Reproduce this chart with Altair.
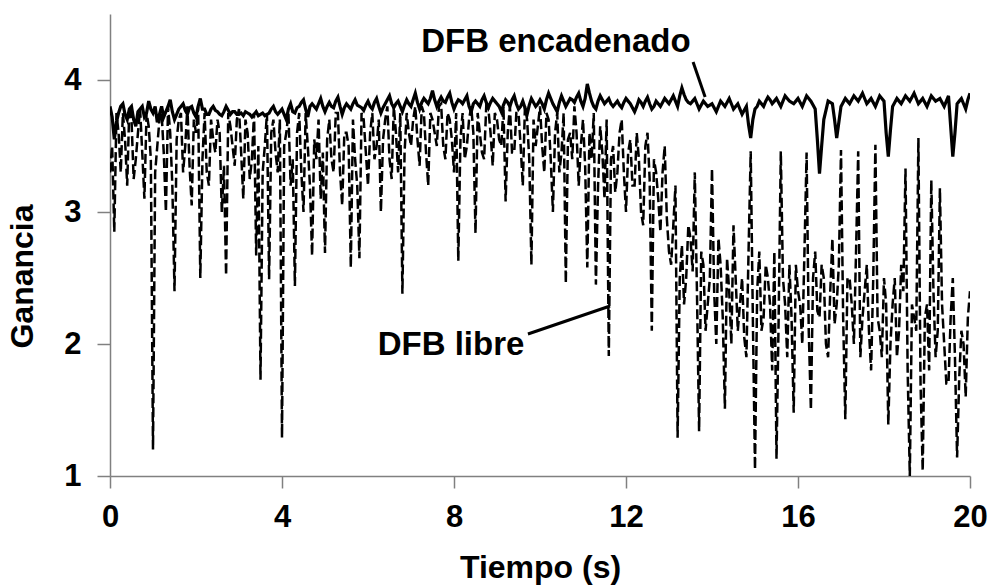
import altair as alt
import pandas as pd

# time axis (s): main samples every 0.1 s, plus the samples between them
tiempo = [round(i * 0.1, 1) for i in range(201)]
tiempo_mid = [round(0.05 + i * 0.1, 2) for i in range(200)]

# DFB libre (dashed)
libre = [
    3.3, 2.85, 3.6, 3.75, 3.2, 3.7, 3.4, 3.78, 3.1, 3.65,
    1.2, 3.5, 3.75, 3.0, 3.6, 2.4, 3.7, 3.3, 3.8, 3.05,
    3.6, 2.5, 3.75, 3.2, 3.55, 3.7, 3.0, 2.52, 3.65, 3.35,
    3.78, 3.1, 3.6, 3.4, 2.67, 1.73, 3.5, 2.49, 3.7, 3.3,
    1.29, 3.6, 3.2, 2.44, 3.75, 3.0, 3.5, 2.67, 3.4, 3.1,
    2.69, 3.7, 3.3, 3.75, 3.05, 3.6, 2.58, 3.4, 2.65, 3.7,
    3.2, 3.75, 3.5, 3.0, 3.7, 3.4, 3.8, 3.3, 2.38, 3.75,
    3.5, 3.8, 3.35, 3.75, 3.2, 3.7, 3.5, 3.82, 3.4, 3.7,
    3.3, 2.63, 3.75, 3.5, 3.8, 2.84, 3.6, 3.4, 3.78, 3.35,
    3.7, 3.5, 3.08, 3.8, 3.45, 3.75, 3.2, 3.7, 2.6, 3.5,
    3.8, 3.3, 3.7, 3.0, 3.75, 3.45, 2.46, 3.6, 3.8, 3.2,
    3.7, 2.58, 3.4, 2.45, 3.65, 3.1, 1.91, 3.5, 3.3, 3.7,
    3.0, 3.55, 3.2, 3.4, 2.9, 3.6, 2.1, 3.3, 2.85, 3.5,
    2.7, 2.9, 1.29, 2.75, 2.5, 2.8, 3.3, 1.34, 2.6, 2.3,
    3.33, 2.0, 2.6, 1.51, 2.4, 2.9, 2.1, 2.5, 1.9, 3.46,
    1.05, 2.7, 2.2, 2.5, 1.8, 1.13, 3.46, 2.3, 2.6, 1.48,
    2.4, 2.0, 3.45, 1.5, 2.7, 2.2, 2.5, 1.9, 2.8, 2.3,
    3.47, 1.43, 2.5, 2.0, 3.46, 2.2, 2.6, 1.8, 3.51, 2.1,
    2.5, 1.39, 2.3, 1.9, 2.6, 3.33, 1.0, 2.2, 3.56, 1.04,
    2.3, 3.24, 1.9, 3.18, 2.0, 1.7, 2.5, 1.14, 2.1, 1.6,
    2.4,
]
libre_mid = [
    3.5, 3.75, 3.3, 3.55, 3.8, 3.25, 3.6, 3.45, 3.75, 3.4,
    3.3, 3.7, 3.45, 3.8, 3.2, 3.55, 3.75, 3.5, 3.35, 3.7,
    3.8, 3.4, 3.3, 3.7, 3.45, 3.6, 3.35, 3.75, 3.5, 3.7,
    3.45, 3.7, 3.25, 3.75, 3.5, 3.3, 3.75, 3.6, 3.45, 3.7,
    3.5, 3.75, 3.4, 3.6, 3.3, 3.75, 3.2, 3.55, 3.7, 3.45,
    3.55, 3.4, 3.75, 3.3, 3.6, 3.5, 3.7, 3.2, 3.75, 3.45,
    3.6, 3.4, 3.7, 3.55, 3.8, 3.25, 3.6, 3.75, 3.45, 3.6,
    3.7, 3.55, 3.8, 3.45, 3.75, 3.6, 3.8, 3.5, 3.75, 3.55,
    3.75, 3.55, 3.4, 3.7, 3.6, 3.75, 3.45, 3.8, 3.6, 3.75,
    3.55, 3.8, 3.6, 3.45, 3.75, 3.5, 3.8, 3.4, 3.7, 3.65,
    3.5, 3.75, 3.4, 3.6, 3.3, 3.75, 3.55, 3.4, 3.6, 3.5,
    3.35, 3.6, 3.75, 3.2, 3.45, 3.7, 3.4, 3.15, 3.6, 3.3,
    3.45, 3.2, 3.6, 3.0, 3.5, 3.25, 3.4, 3.1, 3.3, 2.95,
    2.6, 3.2, 2.5, 2.3, 2.9, 2.55, 2.4, 2.7, 2.1, 2.5,
    2.4, 2.8, 2.2, 2.65, 2.0, 2.5, 2.3, 2.05, 2.7, 2.2,
    2.4, 2.1, 2.6, 2.3, 2.7, 2.2, 2.5, 1.9, 2.2, 2.6,
    2.3, 2.7, 2.1, 2.5, 2.25, 2.6, 2.0, 2.4, 2.15, 2.6,
    2.2, 2.5, 2.3, 2.7, 1.9, 2.4, 2.1, 2.5, 2.2, 1.9,
    2.3, 2.0, 2.5, 2.1, 2.4, 1.8, 2.3, 2.1, 1.7, 2.2,
    1.8, 2.4, 2.1, 2.3, 1.7, 2.2, 1.9, 1.75, 2.0, 2.2,
]

# DFB encadenado (solid)
encadenado = [
    3.8, 3.55, 3.75, 3.82, 3.7, 3.8, 3.65, 3.78, 3.72, 3.84,
    3.75, 3.68, 3.8, 3.76, 3.85, 3.7, 3.78, 3.82, 3.74, 3.8,
    3.72, 3.86, 3.78, 3.74, 3.8, 3.76, 3.73, 3.8, 3.74, 3.76,
    3.74, 3.73, 3.75, 3.72, 3.76, 3.74, 3.73, 3.75, 3.8, 3.74,
    3.78, 3.7, 3.82, 3.75, 3.8, 3.85, 3.72, 3.82, 3.78, 3.86,
    3.76, 3.83, 3.79, 3.87, 3.74, 3.82, 3.78, 3.85, 3.8, 3.77,
    3.84, 3.78, 3.86, 3.75, 3.82, 3.88, 3.79, 3.84, 3.76, 3.85,
    3.8, 3.9, 3.78, 3.86, 3.82, 3.92, 3.8, 3.87, 3.83, 3.9,
    3.78, 3.85, 3.82, 3.88, 3.76, 3.84, 3.8, 3.88, 3.79, 3.86,
    3.82, 3.76, 3.85, 3.8, 3.88, 3.78, 3.84, 3.74, 3.86, 3.8,
    3.85, 3.78, 3.9, 3.82, 3.76, 3.88, 3.8, 3.86, 3.83, 3.9,
    3.8, 3.97, 3.84, 3.78, 3.88, 3.82, 3.86, 3.8, 3.84, 3.79,
    3.86, 3.82, 3.76, 3.85, 3.8, 3.87, 3.78, 3.84, 3.8, 3.86,
    3.82, 3.88, 3.8, 3.94, 3.85, 3.82, 3.86, 3.78, 3.84, 3.8,
    3.82, 3.76, 3.84, 3.8, 3.86, 3.78, 3.82, 3.74, 3.8, 3.56,
    3.78, 3.84, 3.8, 3.87, 3.82, 3.86, 3.8, 3.88, 3.84, 3.82,
    3.86, 3.8, 3.88, 3.84, 3.78, 3.29, 3.7, 3.84, 3.82, 3.56,
    3.8, 3.86, 3.82, 3.88, 3.84, 3.9, 3.82, 3.86, 3.8, 3.88,
    3.84, 3.42, 3.8, 3.86, 3.82, 3.88, 3.84, 3.9, 3.82, 3.86,
    3.8, 3.88, 3.84, 3.86, 3.8, 3.88, 3.42, 3.82, 3.86, 3.78,
    3.9,
]
encadenado_mid = [
    3.72, 3.68, 3.8, 3.74, 3.78, 3.7, 3.76, 3.8, 3.75, 3.78,
    3.8, 3.74, 3.72, 3.8, 3.76, 3.74, 3.8, 3.77, 3.79, 3.75,
    3.8, 3.78, 3.74, 3.78, 3.77, 3.74, 3.76, 3.77, 3.76, 3.74,
    3.75, 3.76, 3.74, 3.74, 3.73, 3.75, 3.74, 3.78, 3.76, 3.76,
    3.74, 3.78, 3.76, 3.79, 3.83, 3.78, 3.8, 3.8, 3.82, 3.8,
    3.8, 3.8, 3.84, 3.8, 3.79, 3.8, 3.82, 3.81, 3.79, 3.81,
    3.8, 3.83, 3.8, 3.79, 3.85, 3.82, 3.82, 3.8, 3.81, 3.82,
    3.85, 3.83, 3.83, 3.84, 3.86, 3.85, 3.84, 3.84, 3.87, 3.83,
    3.82, 3.84, 3.85, 3.8, 3.82, 3.82, 3.85, 3.83, 3.83, 3.84,
    3.8, 3.81, 3.83, 3.85, 3.82, 3.8, 3.79, 3.81, 3.83, 3.82,
    3.82, 3.85, 3.86, 3.79, 3.83, 3.84, 3.83, 3.85, 3.87, 3.84,
    3.86, 3.9, 3.8, 3.84, 3.85, 3.84, 3.82, 3.82, 3.81, 3.83,
    3.84, 3.79, 3.8, 3.83, 3.84, 3.82, 3.8, 3.82, 3.83, 3.84,
    3.85, 3.84, 3.88, 3.89, 3.83, 3.84, 3.82, 3.81, 3.82, 3.81,
    3.79, 3.8, 3.82, 3.83, 3.82, 3.8, 3.78, 3.77, 3.66, 3.7,
    3.8, 3.82, 3.84, 3.85, 3.84, 3.83, 3.84, 3.86, 3.83, 3.84,
    3.83, 3.84, 3.86, 3.81, 3.55, 3.5, 3.77, 3.83, 3.7, 3.68,
    3.83, 3.84, 3.85, 3.86, 3.87, 3.86, 3.84, 3.83, 3.84, 3.86,
    3.6, 3.62, 3.83, 3.84, 3.85, 3.86, 3.87, 3.86, 3.84, 3.83,
    3.84, 3.86, 3.85, 3.83, 3.84, 3.65, 3.6, 3.84, 3.82, 3.85,
]

x_ticks = [0, 4, 8, 12, 16, 20]
y_ticks = [1, 2, 3, 4]

# annotations (data coordinates)
label_text = ["DFB encadenado", "DFB libre"]
label_t = [10.37, 7.93]
label_v = [4.21, 1.92]
arrow_t = [13.56, 9.72]
arrow_v = [4.136, 2.076]
arrow_t2 = [13.84, 11.63]
arrow_v2 = [3.871, 2.288]

df = pd.concat([
    pd.DataFrame({"t": tiempo, "libre": libre, "enc": encadenado}),
    pd.DataFrame({"t": tiempo_mid, "libre": libre_mid, "enc": encadenado_mid}),
]).sort_values("t").reset_index(drop=True)
lab = pd.DataFrame({"text": label_text, "t": label_t, "v": label_v})
arr = pd.DataFrame({"t": arrow_t, "v": arrow_v, "t2": arrow_t2, "v2": arrow_v2})

FONT = "Liberation Sans"

xscale = alt.Scale(domain=[0, 20], nice=False, zero=False)
yscale = alt.Scale(domain=[1, 4.5], nice=False, zero=False)

xaxis = alt.Axis(values=x_ticks, title="Tiempo (s)", grid=False, labelFlush=False,
                 labelOverlap=False, tickSize=12, labelPadding=14, titlePadding=20,
                 format="d")
yaxis = alt.Axis(values=y_ticks, title="Ganancia", grid=False, tickSize=13,
                 labelPadding=16, titlePadding=24, format="d", titleY=262)

base = alt.Chart(df)

libre_line = base.mark_line(color="black", strokeWidth=2.5, strokeDash=[10, 4], clip=True).encode(
    x=alt.X("t:Q", scale=xscale, axis=xaxis),
    y=alt.Y("libre:Q", scale=yscale, axis=yaxis),
)
enc_line = base.mark_line(color="black", strokeWidth=3.2, clip=True).encode(
    x=alt.X("t:Q", scale=xscale),
    y=alt.Y("enc:Q", scale=yscale),
)
texts = alt.Chart(lab).mark_text(font=FONT, fontWeight="bold", fontSize=33, color="black",
                                 align="center", baseline="alphabetic").encode(
    x=alt.X("t:Q", scale=xscale), y=alt.Y("v:Q", scale=yscale), text="text:N"
)
arrows = alt.Chart(arr).mark_rule(color="black", strokeWidth=3).encode(
    x=alt.X("t:Q", scale=xscale), y=alt.Y("v:Q", scale=yscale),
    x2="t2:Q", y2="v2:Q",
)

chart = alt.layer(libre_line, enc_line, arrows, texts).properties(
    width=860, height=462,
    autosize=alt.AutoSizeParams(type="none"),
    padding={"left": 110, "top": 14, "right": 19, "bottom": 110},
    background="white",
).configure_view(stroke=None).configure_axis(
    domainColor="#808080", tickColor="#808080", domainWidth=1.5, tickWidth=1.5,
    labelFont=FONT, labelFontSize=31, labelFontWeight="bold", labelColor="black",
    titleFont=FONT, titleFontSize=32, titleFontWeight="bold", titleColor="black",
)

chart.save("out.html", embed_options={"renderer": "svg", "actions": False})
